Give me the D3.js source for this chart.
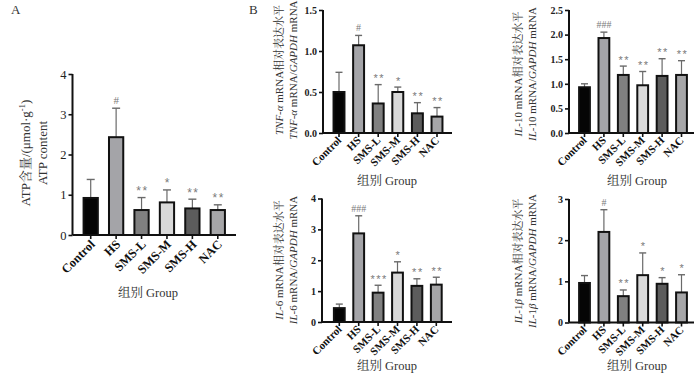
<!DOCTYPE html>
<html><head><meta charset="utf-8">
<script src="https://cdn.jsdelivr.net/npm/d3@7"></script>
<style>
html,body{margin:0;padding:0;background:#fff;}
svg{display:block;}
</style></head>
<body>
<svg id="chart" width="700" height="373"></svg>
<script>
// ---- data ----
const groups = ["Control", "HS", "SMS-L", "SMS-M", "SMS-H", "NAC"];
const barColors = ["#050505", "#a4a4a8", "#808080", "#d9d9d9", "#5c5c5c", "#a6a6a8"];

const atpMean = [0.92, 2.43, 0.62, 0.81, 0.66, 0.62];
const atpSD   = [0.46, 0.72, 0.31, 0.31, 0.23, 0.13];
const atpSig  = ["", "#", "**", "*", "**", "**"];
const atpTicks = [0, 1, 2, 3, 4];

const tnfMean = [0.50, 1.07, 0.36, 0.50, 0.24, 0.20];
const tnfSD   = [0.24, 0.12, 0.23, 0.06, 0.13, 0.11];
const tnfSig  = ["", "#", "**", "*", "**", "**"];
const tnfTicks = [0, 0.5, 1.0, 1.5];

const il10Mean = [0.93, 1.93, 1.18, 0.97, 1.16, 1.18];
const il10SD   = [0.07, 0.12, 0.18, 0.28, 0.35, 0.29];
const il10Sig  = ["", "###", "**", "**", "**", "**"];
const il10Ticks = [0, 0.5, 1.0, 1.5, 2.0, 2.5];

const il6Mean = [0.45, 2.87, 0.95, 1.60, 1.17, 1.21];
const il6SD   = [0.13, 0.57, 0.24, 0.35, 0.23, 0.24];
const il6Sig  = ["", "###", "***", "*", "**", "**"];
const il6Ticks = [0, 1, 2, 3, 4];

const il1bMean = [0.96, 2.20, 0.64, 1.15, 0.94, 0.73];
const il1bSD   = [0.18, 0.54, 0.15, 0.54, 0.15, 0.43];
const il1bSig  = ["", "#", "**", "*", "*", "*"];
const il1bTicks = [0, 1, 2, 3];

const xTitle = "组别 Group";

// ---- drawing ----
const svg = d3.select("#chart");
const SERIF = "'Liberation Serif','Times New Roman','Noto Serif CJK SC','Noto Sans CJK SC',serif";
const SANS = "'Liberation Sans',Arial,sans-serif";
const TEXTC = "#333";

function drawPanel(o) {
  const g = svg.append("g");
  const x = d3.scaleBand().domain(groups).range(o.xr).paddingInner(o.pad).paddingOuter(o.pad / 2);
  const y = d3.scaleLinear().domain([0, o.ticks[o.ticks.length - 1]]).range([o.yb, o.yt]);
  const bw = x.bandwidth();

  const data = groups.map((k, i) => ({k, m: o.mean[i], sd: o.sd[i], s: o.sig[i], c: barColors[i]}));
  // error bars (behind bars)
  data.forEach(d => {
    const cx = x(d.k) + bw / 2;
    g.append("line").attr("x1", cx).attr("x2", cx).attr("y1", y(d.m)).attr("y2", y(d.m + d.sd))
      .attr("stroke", "#6a6a6a").attr("stroke-width", 1.2);
    g.append("line").attr("x1", cx - o.cap / 2).attr("x2", cx + o.cap / 2)
      .attr("y1", y(d.m + d.sd)).attr("y2", y(d.m + d.sd))
      .attr("stroke", "#6a6a6a").attr("stroke-width", 1.4);
  });
  g.selectAll("rect.bar").data(data).join("rect").attr("class", "bar")
    .attr("x", d => x(d.k) + 1).attr("width", bw - 2)
    .attr("y", d => y(d.m)).attr("height", d => y(0) - y(d.m))
    .attr("fill", d => d.c).attr("stroke", "#111").attr("stroke-width", 2);

  // significance marks
  g.selectAll("text.sig").data(data).join("text").attr("class", "sig")
    .attr("x", d => x(d.k) + bw / 2 + (d.s.startsWith("#") ? 0 : 1))
    .attr("y", d => y(d.m + d.sd) - (d.s.startsWith("#") ? 4 : 2.5))
    .attr("text-anchor", "middle")
    .attr("font-family", d => d.s.startsWith("#") ? SERIF : SANS)
    .attr("font-size", d => d.s.startsWith("#") ? o.sigF : o.sigF + 1)
    .attr("letter-spacing", d => d.s.startsWith("#") ? 0 : 1.5)
    .attr("fill", "#7a7a7a")
    .text(d => d.s);

  // y axis
  const ya = d3.axisLeft(y).tickValues(o.ticks).tickFormat(o.fmt).tickSize(4).tickPadding(2);
  const yg = g.append("g").attr("transform", `translate(${o.ax},0)`).call(ya);
  yg.select(".domain").attr("stroke", "#111").attr("stroke-width", 2).attr("d", `M0,${o.yt}V${o.yb}`);
  yg.selectAll(".tick line").attr("stroke", "#111").attr("stroke-width", 1.6);
  yg.selectAll(".tick text").attr("font-family", SERIF).attr("font-size", o.tickF)
    .attr("font-weight", o.tickW).attr("fill", "#222");

  // x axis
  g.append("line").attr("x1", o.ax).attr("x2", o.xEnd).attr("y1", o.yb).attr("y2", o.yb)
    .attr("stroke", "#111").attr("stroke-width", 2);
  const xa = d3.axisBottom(x).tickSize(4).tickFormat("");
  const xg = g.append("g").attr("transform", `translate(0,${o.yb})`).call(xa);
  xg.select(".domain").remove();
  xg.selectAll(".tick line").attr("stroke", "#111").attr("stroke-width", 1.6);

  // category labels
  g.selectAll("text.cat").data(groups).join("text").attr("class", "cat")
    .attr("transform", d => `translate(${x(d) + bw / 2 + o.catDx},${o.yb + o.catDy}) rotate(-45)`)
    .attr("text-anchor", "end").attr("font-family", SERIF).attr("font-weight", "bold")
    .attr("font-size", o.catF).attr("fill", "#111").text(d => d);

  // x title
  g.append("text").attr("x", o.xtX).attr("y", o.xtY).attr("text-anchor", "middle")
    .attr("font-family", SERIF).attr("font-size", 12.5).attr("fill", TEXTC).text(xTitle);

  // y title (two lines)
  o.yLines.forEach((parts, li) => {
    const t = g.append("text")
      .attr("transform", `translate(${o.ytX[li]},${o.ytY}) rotate(-90)`)
      .attr("text-anchor", "middle").attr("dy", "0.35em")
      .attr("font-family", SERIF).attr("font-size", o.ytF).attr("fill", TEXTC);
    parts.forEach(p => {
      const ts = t.append("tspan").text(p.t);
      if (p.i) ts.attr("font-style", "italic");
      if (p.sup) ts.attr("baseline-shift", "super").attr("font-size", o.ytF * 0.65);
    });
  });
}

// Panel labels
svg.append("text").attr("x", 11).attr("y", 14).attr("font-family", SERIF).attr("font-size", 13).attr("fill", TEXTC).text("A");
svg.append("text").attr("x", 249).attr("y", 14).attr("font-family", SERIF).attr("font-size", 13).attr("fill", TEXTC).text("B");

const common = {pad: 0.34, fmt: d3.format(".1f"), tickW: "bold", tickF: 10, catF: 11, catDx: 3, catDy: 8, sigF: 10, cap: 7, ytF: 11};

drawPanel({
  mean: atpMean, sd: atpSD, sig: atpSig, ticks: atpTicks,
  xr: [78, 230.5], pad: 0.36, ax: 72.5, xEnd: 236, yt: 74, yb: 235,
  fmt: d3.format("d"), tickW: "normal", tickF: 12.5, catF: 12.5, catDx: 5, catDy: 10, sigF: 11, cap: 8,
  xtX: 148, xtY: 297, ytX: [25, 42], ytY: 153, ytF: 13,
  yLines: [[{t: "ATP含量/(μmol·g"}, {t: "-1", sup: true}, {t: ")"}], [{t: "ATP content"}]]
});

drawPanel(Object.assign({}, common, {
  mean: tnfMean, sd: tnfSD, sig: tnfSig, ticks: tnfTicks,
  xr: [329.2, 446.8], ax: 323, xEnd: 452, yt: 10, yb: 133,
  xtX: 387, xtY: 185, ytX: [279, 293], ytY: 70,
  yLines: [[{t: "TNF-α", i: true}, {t: " mRNA相对表达水平"}],
           [{t: "TNF-α", i: true}, {t: " mRNA/"}, {t: "GAPDH", i: true}, {t: " mRNA"}]]
}));

drawPanel(Object.assign({}, common, {
  mean: il10Mean, sd: il10SD, sig: il10Sig, ticks: il10Ticks,
  xr: [574.8, 691.2], ax: 569, xEnd: 694, yt: 10, yb: 133,
  xtX: 637, xtY: 185, ytX: [518, 532], ytY: 74,
  yLines: [[{t: "IL", i: true}, {t: "-10 mRNA相对表达水平"}],
           [{t: "IL", i: true}, {t: "-10 mRNA/"}, {t: "GAPDH", i: true}, {t: " mRNA"}]]
}));

drawPanel(Object.assign({}, common, {
  mean: il6Mean, sd: il6SD, sig: il6Sig, ticks: il6Ticks, fmt: d3.format("d"),
  xr: [329.6, 446], ax: 322, xEnd: 452, yt: 198.5, yb: 322,
  xtX: 387, xtY: 370, ytX: [279, 293], ytY: 260,
  yLines: [[{t: "IL", i: true}, {t: "-6 mRNA相对表达水平"}],
           [{t: "IL", i: true}, {t: "-6 mRNA/"}, {t: "GAPDH", i: true}, {t: " mRNA"}]]
}));

drawPanel(Object.assign({}, common, {
  mean: il1bMean, sd: il1bSD, sig: il1bSig, ticks: il1bTicks, fmt: d3.format("d"),
  xr: [574.8, 691.2], ax: 569, xEnd: 694, yt: 199, yb: 322.5,
  xtX: 637, xtY: 370, ytX: [518, 532], ytY: 261,
  yLines: [[{t: "IL", i: true}, {t: "-1"}, {t: "β", i: true}, {t: " mRNA相对表达水平"}],
           [{t: "IL", i: true}, {t: "-1"}, {t: "β", i: true}, {t: " mRNA/"}, {t: "GAPDH", i: true}, {t: " mRNA"}]]
}));
</script>
</body></html>
